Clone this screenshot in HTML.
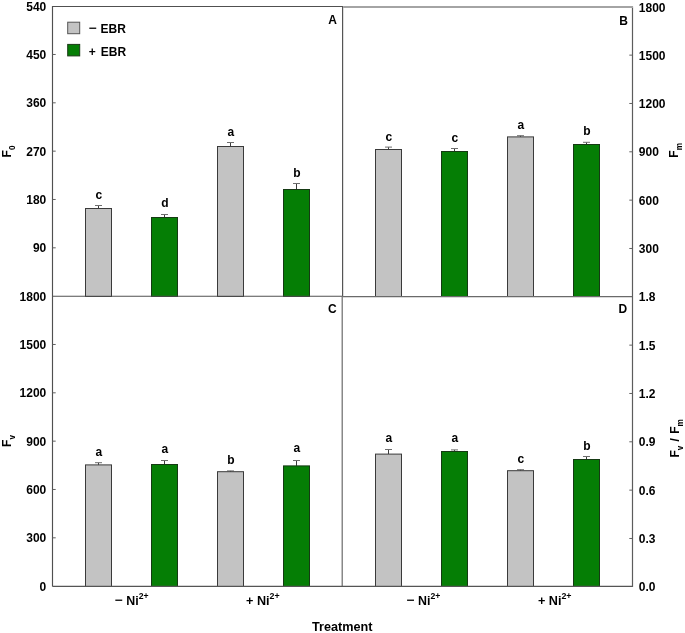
<!DOCTYPE html>
<html lang="en"><head><meta charset="utf-8"><title>Chlorophyll fluorescence chart</title>
<style>html,body{margin:0;padding:0;background:#fff}svg{display:block;will-change:transform}text{font-family:"Liberation Sans", Arial, Helvetica, sans-serif;font-weight:bold;font-size:12px;fill:#000}</style></head><body>
<svg width="685" height="633" viewBox="0 0 685 633">
<rect width="685" height="633" fill="#fff"/>
<path d="M98.5 208.5V205.5" stroke="#3c3c3c" stroke-width="1" fill="none"/>
<path d="M95.0 205.5H102.0" stroke="#6e6e6e" stroke-width="1" fill="none"/>
<rect x="85.5" y="208.5" width="26" height="88.0" fill="#c3c3c3" stroke="#3a3a3a" stroke-width="1"/>
<text x="98.8" y="198.5" text-anchor="middle">c</text>
<path d="M164.5 217.5V214.5" stroke="#3c3c3c" stroke-width="1" fill="none"/>
<path d="M161.0 214.5H168.0" stroke="#6e6e6e" stroke-width="1" fill="none"/>
<rect x="151.5" y="217.5" width="26" height="79.0" fill="#057e05" stroke="#163a14" stroke-width="1"/>
<text x="164.8" y="206.5" text-anchor="middle">d</text>
<path d="M230.5 146.5V142.5" stroke="#3c3c3c" stroke-width="1" fill="none"/>
<path d="M227.0 142.5H234.0" stroke="#6e6e6e" stroke-width="1" fill="none"/>
<rect x="217.5" y="146.5" width="26" height="150.0" fill="#c3c3c3" stroke="#3a3a3a" stroke-width="1"/>
<text x="230.8" y="135.8" text-anchor="middle">a</text>
<path d="M296.5 189.5V183.5" stroke="#3c3c3c" stroke-width="1" fill="none"/>
<path d="M293.0 183.5H300.0" stroke="#6e6e6e" stroke-width="1" fill="none"/>
<rect x="283.5" y="189.5" width="26" height="107.0" fill="#057e05" stroke="#163a14" stroke-width="1"/>
<text x="296.8" y="176.8" text-anchor="middle">b</text>
<path d="M388.5 149.5V147.1" stroke="#3c3c3c" stroke-width="1" fill="none"/>
<path d="M385.0 147.1H392.0" stroke="#6e6e6e" stroke-width="1" fill="none"/>
<rect x="375.5" y="149.5" width="26" height="147.0" fill="#c3c3c3" stroke="#3a3a3a" stroke-width="1"/>
<text x="388.8" y="140.6" text-anchor="middle">c</text>
<path d="M454.5 151.5V148.5" stroke="#3c3c3c" stroke-width="1" fill="none"/>
<path d="M451.0 148.5H458.0" stroke="#6e6e6e" stroke-width="1" fill="none"/>
<rect x="441.5" y="151.5" width="26" height="145.0" fill="#057e05" stroke="#163a14" stroke-width="1"/>
<text x="454.8" y="141.6" text-anchor="middle">c</text>
<path d="M520.5 136.9V135.7" stroke="#3c3c3c" stroke-width="1" fill="none"/>
<path d="M517.0 135.7H524.0" stroke="#6e6e6e" stroke-width="1" fill="none"/>
<rect x="507.5" y="136.9" width="26" height="159.6" fill="#c3c3c3" stroke="#3a3a3a" stroke-width="1"/>
<text x="520.8" y="128.7" text-anchor="middle">a</text>
<path d="M586.5 144.5V142.3" stroke="#3c3c3c" stroke-width="1" fill="none"/>
<path d="M583.0 142.3H590.0" stroke="#6e6e6e" stroke-width="1" fill="none"/>
<rect x="573.5" y="144.5" width="26" height="152.0" fill="#057e05" stroke="#163a14" stroke-width="1"/>
<text x="586.8" y="134.8" text-anchor="middle">b</text>
<path d="M98.5 464.9V462.7" stroke="#3c3c3c" stroke-width="1" fill="none"/>
<path d="M95.0 462.7H102.0" stroke="#6e6e6e" stroke-width="1" fill="none"/>
<rect x="85.5" y="464.9" width="26" height="121.6" fill="#c3c3c3" stroke="#3a3a3a" stroke-width="1"/>
<text x="98.8" y="456.2" text-anchor="middle">a</text>
<path d="M164.5 464.5V460.5" stroke="#3c3c3c" stroke-width="1" fill="none"/>
<path d="M161.0 460.5H168.0" stroke="#6e6e6e" stroke-width="1" fill="none"/>
<rect x="151.5" y="464.5" width="26" height="122.0" fill="#057e05" stroke="#163a14" stroke-width="1"/>
<text x="164.8" y="453.4" text-anchor="middle">a</text>
<path d="M230.5 471.7V470.9" stroke="#3c3c3c" stroke-width="1" fill="none"/>
<path d="M227.0 470.9H234.0" stroke="#6e6e6e" stroke-width="1" fill="none"/>
<rect x="217.5" y="471.7" width="26" height="114.8" fill="#c3c3c3" stroke="#3a3a3a" stroke-width="1"/>
<text x="230.8" y="463.9" text-anchor="middle">b</text>
<path d="M296.5 465.9V460.5" stroke="#3c3c3c" stroke-width="1" fill="none"/>
<path d="M293.0 460.5H300.0" stroke="#6e6e6e" stroke-width="1" fill="none"/>
<rect x="283.5" y="465.9" width="26" height="120.6" fill="#057e05" stroke="#163a14" stroke-width="1"/>
<text x="296.8" y="452.0" text-anchor="middle">a</text>
<path d="M388.5 454.1V449.5" stroke="#3c3c3c" stroke-width="1" fill="none"/>
<path d="M385.0 449.5H392.0" stroke="#6e6e6e" stroke-width="1" fill="none"/>
<rect x="375.5" y="454.1" width="26" height="132.4" fill="#c3c3c3" stroke="#3a3a3a" stroke-width="1"/>
<text x="388.8" y="442.4" text-anchor="middle">a</text>
<path d="M454.5 451.5V449.9" stroke="#3c3c3c" stroke-width="1" fill="none"/>
<path d="M451.0 449.9H458.0" stroke="#6e6e6e" stroke-width="1" fill="none"/>
<rect x="441.5" y="451.5" width="26" height="135.0" fill="#057e05" stroke="#163a14" stroke-width="1"/>
<text x="454.8" y="442.4" text-anchor="middle">a</text>
<path d="M520.5 470.7V469.7" stroke="#3c3c3c" stroke-width="1" fill="none"/>
<path d="M517.0 469.7H524.0" stroke="#6e6e6e" stroke-width="1" fill="none"/>
<rect x="507.5" y="470.7" width="26" height="115.8" fill="#c3c3c3" stroke="#3a3a3a" stroke-width="1"/>
<text x="520.8" y="462.8" text-anchor="middle">c</text>
<path d="M586.5 459.5V456.5" stroke="#3c3c3c" stroke-width="1" fill="none"/>
<path d="M583.0 456.5H590.0" stroke="#6e6e6e" stroke-width="1" fill="none"/>
<rect x="573.5" y="459.5" width="26" height="127.0" fill="#057e05" stroke="#163a14" stroke-width="1"/>
<text x="586.8" y="449.8" text-anchor="middle">b</text>
<path d="M52.5 586.5V6.5H343.10" stroke="#505050" stroke-width="1.15" fill="none"/>
<path d="M342.60 6.5V296.5" stroke="#555" stroke-width="1.2" fill="none"/>
<path d="M342.20 296.5V586.5" stroke="#6a6a6a" stroke-width="1.2" fill="none"/>
<path d="M52.5 296.20H342.5" stroke="#505050" stroke-width="1.15" fill="none"/>
<path d="M342.5 296.70H632.5" stroke="#6a6a6a" stroke-width="1.2" fill="none"/>
<path d="M52.5 586.3H632.5" stroke="#555" stroke-width="1.15" fill="none"/>
<path d="M632.50 6.5V586.9" stroke="#5c5c5c" stroke-width="1.2" fill="none"/>
<path d="M343.1 7.0H633.0" stroke="#a4a4a4" stroke-width="1.8" fill="none"/>
<path d="M52.5 54.48h3.2M632.5 55.13h-3.2M52.5 344.48h3.2M632.5 345.13h-3.2M52.5 102.82h3.2M632.5 103.47h-3.2M52.5 392.82h3.2M632.5 393.47h-3.2M52.5 151.15h3.2M632.5 151.80h-3.2M52.5 441.15h3.2M632.5 441.80h-3.2M52.5 199.48h3.2M632.5 200.13h-3.2M52.5 489.48h3.2M632.5 490.13h-3.2M52.5 247.82h3.2M632.5 248.47h-3.2M52.5 537.82h3.2M632.5 538.47h-3.2" stroke="#606060" stroke-width="1" fill="none"/>
<text x="46.3" y="11.1" text-anchor="end">540</text>
<text x="46.3" y="58.8" text-anchor="end">450</text>
<text x="46.3" y="107.2" text-anchor="end">360</text>
<text x="46.3" y="155.5" text-anchor="end">270</text>
<text x="46.3" y="203.8" text-anchor="end">180</text>
<text x="46.3" y="252.2" text-anchor="end">90</text>
<text x="46.3" y="300.5" text-anchor="end">1800</text>
<text x="46.3" y="348.8" text-anchor="end">1500</text>
<text x="46.3" y="397.2" text-anchor="end">1200</text>
<text x="46.3" y="445.5" text-anchor="end">900</text>
<text x="46.3" y="493.8" text-anchor="end">600</text>
<text x="46.3" y="542.2" text-anchor="end">300</text>
<text x="46.3" y="590.5" text-anchor="end">0</text>
<text x="638.8" y="11.5" text-anchor="start">1800</text>
<text x="638.8" y="59.6" text-anchor="start">1500</text>
<text x="638.8" y="108.0" text-anchor="start">1200</text>
<text x="638.8" y="156.3" text-anchor="start">900</text>
<text x="638.8" y="204.6" text-anchor="start">600</text>
<text x="638.8" y="253.0" text-anchor="start">300</text>
<text x="638.8" y="301.3" text-anchor="start">1.8</text>
<text x="638.8" y="349.6" text-anchor="start">1.5</text>
<text x="638.8" y="398.0" text-anchor="start">1.2</text>
<text x="638.8" y="446.3" text-anchor="start">0.9</text>
<text x="638.8" y="494.6" text-anchor="start">0.6</text>
<text x="638.8" y="543.0" text-anchor="start">0.3</text>
<text x="638.8" y="591.3" text-anchor="start">0.0</text>
<text x="332.6" y="24.0" text-anchor="middle">A</text>
<text x="623.6" y="24.6" text-anchor="middle">B</text>
<text x="332.4" y="313.2" text-anchor="middle">C</text>
<text x="622.9" y="313.3" text-anchor="middle">D</text>
<rect x="67.7" y="22.2" width="12" height="11.5" fill="#c3c3c3" stroke="#555" stroke-width="1"/>
<rect x="67.7" y="44.4" width="12" height="11.5" fill="#057e05" stroke="#1c3a18" stroke-width="1"/>
<text transform="translate(88.9 32.2) scale(1.15 1)">−</text>
<text x="100.5" y="33.4">EBR</text>
<text x="88.8" y="55.5" style="word-spacing:1.6px">+ EBR</text>
<text transform="translate(115.0 603.7) scale(1.15 1)">−</text>
<text transform="translate(126.2 604.8) scale(1.035 1)">Ni<tspan dy="-6.1" font-size="8.4">2+</tspan></text>
<text transform="translate(406.8 603.7) scale(1.15 1)">−</text>
<text transform="translate(418.0 604.8) scale(1.035 1)">Ni<tspan dy="-6.1" font-size="8.4">2+</tspan></text>
<text transform="translate(262.9 604.8) scale(1.055 1)" text-anchor="middle">+ Ni<tspan dy="-6.1" font-size="8.4">2+</tspan></text>
<text transform="translate(554.7 604.8) scale(1.055 1)" text-anchor="middle">+ Ni<tspan dy="-6.1" font-size="8.4">2+</tspan></text>
<text transform="translate(342.2 631) scale(1.057 1)" text-anchor="middle">Treatment</text>
<text transform="translate(11.0 151.5) rotate(-90)" text-anchor="middle">F<tspan dy="4" font-size="8.2">0</tspan></text>
<text transform="translate(11.2 441.0) rotate(-90)" text-anchor="middle">F<tspan dy="4" font-size="8.2">v</tspan></text>
<text transform="translate(678.0 150.4) rotate(-90)" text-anchor="middle">F<tspan dy="4" font-size="8.2">m</tspan></text>
<text transform="translate(678.6 438.4) rotate(-90)" text-anchor="middle" style="word-spacing:0.9px">F<tspan dy="4" font-size="8.2">v</tspan><tspan dy="-4"> / F</tspan><tspan dy="4" font-size="8.2">m</tspan></text>
</svg></body></html>
